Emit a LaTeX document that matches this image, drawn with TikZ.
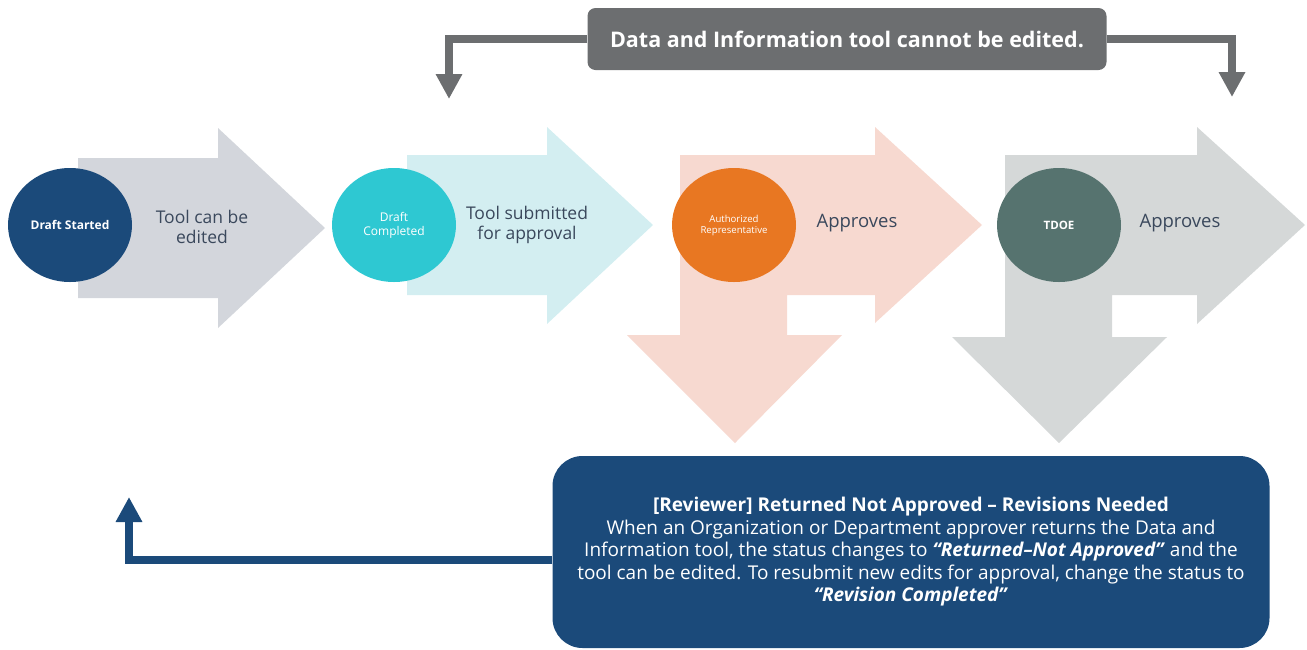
\documentclass[tikz,border=0pt]{standalone}
\usepackage{fontspec}
\setmainfont{Open Sans}
\usepackage{tikz}
\usetikzlibrary{arrows.meta,shapes,positioning}
\definecolor{tdnavy}{RGB}{27,74,122}
\definecolor{tdcyan}{RGB}{46,200,210}
\definecolor{tdorange}{RGB}{232,119,34}
\definecolor{tdteal}{RGB}{86,115,111}
\definecolor{tdgray}{RGB}{108,110,112}
\definecolor{tdslate}{RGB}{58,72,92}
\definecolor{tdlightgray}{RGB}{211,214,220}
\definecolor{tdlightcyan}{RGB}{211,238,241}
\definecolor{tdlightpink}{RGB}{247,217,208}
\definecolor{tdlightsage}{RGB}{213,216,216}
\tikzstyle{stage} = [ellipse, minimum width=124pt, minimum height=114pt, inner sep=0pt, text=white, align=center]
\tikzstyle{steptext} = [text=tdslate, align=center, font=\fontsize{17.5}{20}\selectfont]

\begin{document}
\begin{tikzpicture}[x=1pt, y=-1pt,
    notebox/.style={rectangle, rounded corners=8pt, fill=tdgray, text=white, minimum width=519pt, minimum height=62pt, font=\fontsize{21.5}{24}\selectfont\bfseries},
    returnbox/.style={rectangle, rounded corners=30pt, fill=tdnavy, text=white, align=center, minimum width=717pt, minimum height=192pt, font=\fontsize{19}{22.5}\selectfont},
    noteline/.style={line width=8pt, tdgray, -{Triangle[width=25pt,length=25pt]}},
    returnline/.style={line width=8pt, tdnavy, -{Triangle[width=25pt,length=25pt]}}]

\useasboundingbox (0,0) rectangle (1307,649);

% Block arrows
\fill[tdlightgray] (78,158) -- (218,158) -- (218,128) -- (325,228) -- (218,328) -- (218,298) -- (78,298) -- cycle;
\fill[tdlightcyan] (407,155) -- (547,155) -- (547,127) -- (653,225) -- (547,324) -- (547,295) -- (407,295) -- cycle;
\fill[tdlightpink] (680,155) -- (875,155) -- (875,127) -- (982,225) -- (875,323) -- (875,295) -- (787,295)
    -- (787,335) -- (842,335) -- (735,443) -- (627,335) -- (680,335) -- cycle;
\fill[tdlightsage] (1005,155) -- (1197,155) -- (1197,127) -- (1305,225) -- (1197,324) -- (1197,295) -- (1112,295)
    -- (1112,337) -- (1167,337) -- (1059,443) -- (952,337) -- (1005,337) -- cycle;

% Stages
\node[stage, fill=tdnavy, font=\fontsize{12}{14}\selectfont\bfseries] (started) at (70,225) {Draft Started};
\node[stage, fill=tdcyan, font=\fontsize{12}{14}\selectfont] (completed) at (394,225) {Draft\\Completed};
\node[stage, fill=tdorange, font=\fontsize{9.6}{11}\selectfont] (authorized) at (734,225) {Authorized\\Representative};
\node[stage, fill=tdteal, font=\fontsize{11.5}{14}\selectfont\bfseries] (tdoe) at (1059,225) {TDOE};

% Stage texts
\node[steptext] (editable) at (202,227) {Tool can be\\edited};
\node[steptext] (submitted) at (527,225) {Tool submitted\\for approval};
\node[steptext, font=\fontsize{18.5}{20}\selectfont] (repapproves) at (857,223) {Approves};
\node[steptext, font=\fontsize{18.5}{20}\selectfont] (tdoeapproves) at (1180,223) {Approves};

% Notes
\node[notebox] (locked) at (847,39) {Data and Information tool cannot be edited.};
\node[returnbox] (returned) at (911,552) {\textbf{[Reviewer] Returned Not Approved -- Revisions Needed}\\
    When an Organization or Department approver returns the Data and\\
    Information tool, the status changes to \textbf{\textit{“Returned–Not Approved”}} and the\\
    tool can be edited. To resubmit new edits for approval, change the status to\\
    \textbf{\textit{“Revision Completed”}}};

% Connectors
\coordinate (lockleft) at (449,99);
\coordinate (lockright) at (1232,97);
\coordinate (backtip) at (129,497);
\draw[noteline] (locked.west) -| (lockleft);
\draw[noteline] (locked.east) -| (lockright);
\draw[returnline] ([yshift=-8pt]returned.west) -| (backtip);
\end{tikzpicture}
\end{document}
